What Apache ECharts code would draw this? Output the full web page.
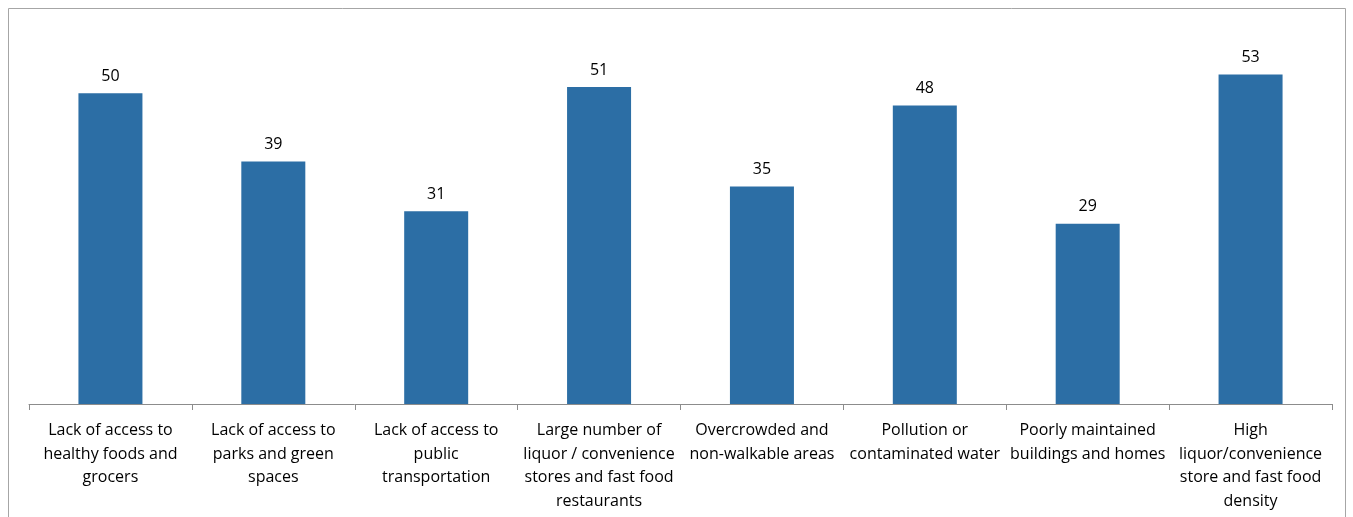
<!DOCTYPE html>
<html><head><meta charset="utf-8">
<script src="https://cdn.jsdelivr.net/npm/echarts@6/dist/echarts.min.js"></script>
<style>html,body{margin:0;padding:0;background:#fff}#c{width:1353px;height:517px}</style>
</head><body><div id="c"></div>
<script>
const categories = [
  "Lack of access to\nhealthy foods and\ngrocers",
  "Lack of access to\nparks and green\nspaces",
  "Lack of access to\npublic\ntransportation",
  "Large number of\nliquor / convenience\nstores and fast food\nrestaurants",
  "Overcrowded and\nnon-walkable areas",
  "Pollution or\ncontaminated water",
  "Poorly maintained\nbuildings and homes",
  "High\nliquor/convenience\nstore and fast food\ndensity"
];
const values = [50, 39, 31, 51, 35, 48, 29, 53];

const chart = echarts.init(document.getElementById('c'));
chart.setOption({
  animation: false,
  graphic: [{type:'rect', shape:{x:8.5,y:8.5,width:1337,height:520}, style:{fill:'none',stroke:'#a6a6a6',lineWidth:1}, silent:true}],
  grid: {left: 29, right: 21, top: 31, bottom: 113},
  xAxis: {
    type: 'category', data: categories,
    axisLine: {lineStyle: {color: '#8c8c8c'}},
    axisTick: {show: true, length: 6, lineStyle: {color: '#8c8c8c'}},
    axisLabel: {interval: 0, color: '#000', fontFamily: 'Open Sans', fontSize: 16, lineHeight: 23.5, margin: 15}
  },
  yAxis: {type: 'value', min: 0, max: 60, show: false, splitLine: {show: false}},
  series: [{
    type: 'bar', data: values, barWidth: 64,
    itemStyle: {color: '#2c6ea5'},
    label: {show: true, position: 'top', distance: 9, color: '#000', fontFamily: 'Open Sans', fontSize: 16}
  }]
});
</script></body></html>
